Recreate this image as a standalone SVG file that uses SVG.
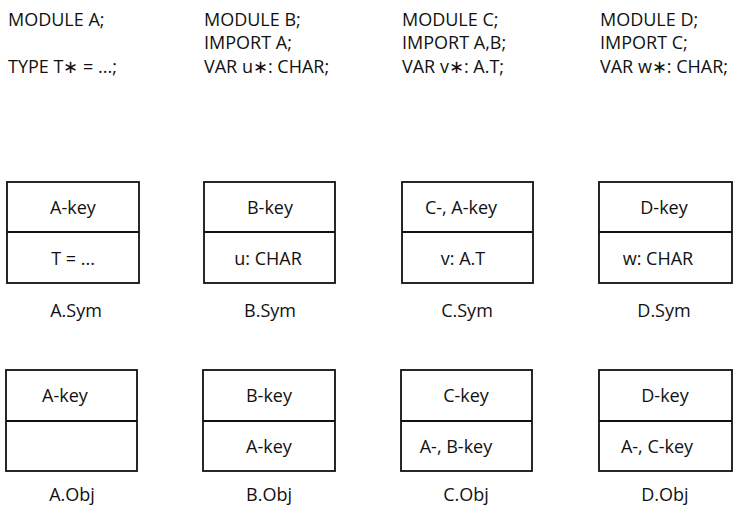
<svg xmlns="http://www.w3.org/2000/svg" width="752" height="514" viewBox="0 0 752 514">
<style>
text{font-family:"Open Sans","Liberation Sans",sans-serif;font-size:18px;fill:#111}
.c{text-anchor:middle}
.box{fill:#fff;stroke:#111;stroke-width:1.8}
.div{stroke:#111;stroke-width:1.8}
</style>
<rect width="752" height="514" fill="#fff"/>
<g id="modA">
<text x="8" y="26">MODULE A;</text>
<text x="8" y="73">TYPE T∗ = ...;</text>
</g>
<g id="modB">
<text x="204" y="26">MODULE B;</text>
<text x="204" y="49">IMPORT A;</text>
<text x="204" y="73">VAR u∗: CHAR;</text>
</g>
<g id="modC">
<text x="402" y="26">MODULE C;</text>
<text x="402" y="49">IMPORT A,B;</text>
<text x="402" y="73">VAR v∗: A.T;</text>
</g>
<g id="modD">
<text x="600" y="26">MODULE D;</text>
<text x="600" y="49">IMPORT C;</text>
<text x="600" y="73">VAR w∗: CHAR;</text>
</g>
<g id="ASym">
<rect class="box" x="7" y="182" width="132" height="101"/>
<line class="div" x1="7" y1="232" x2="139" y2="232"/>
<text class="c" x="73" y="214">A-key</text>
<text class="c" x="73" y="265">T = ...</text>
<text class="c" x="76" y="317">A.Sym</text>
</g>
<g id="BSym">
<rect class="box" x="204" y="182" width="131" height="101"/>
<line class="div" x1="204" y1="232" x2="335" y2="232"/>
<text class="c" x="270" y="214">B-key</text>
<text class="c" x="268" y="265">u: CHAR</text>
<text class="c" x="270" y="317">B.Sym</text>
</g>
<g id="CSym">
<rect class="box" x="402" y="182" width="131" height="101"/>
<line class="div" x1="402" y1="232" x2="533" y2="232"/>
<text class="c" x="461" y="214">C-, A-key</text>
<text class="c" x="463" y="265">v: A.T</text>
<text class="c" x="467" y="317">C.Sym</text>
</g>
<g id="DSym">
<rect class="box" x="599" y="182" width="133" height="101"/>
<line class="div" x1="599" y1="232" x2="732" y2="232"/>
<text class="c" x="664" y="214">D-key</text>
<text class="c" x="658" y="265">w: CHAR</text>
<text class="c" x="664" y="317">D.Sym</text>
</g>
<g id="AObj">
<rect class="box" x="6" y="370" width="131" height="101"/>
<line class="div" x1="6" y1="421" x2="137" y2="421"/>
<text class="c" x="65" y="402">A-key</text>
<text class="c" x="72" y="501">A.Obj</text>
</g>
<g id="BObj">
<rect class="box" x="203" y="370" width="132" height="101"/>
<line class="div" x1="203" y1="421" x2="335" y2="421"/>
<text class="c" x="269" y="402">B-key</text>
<text class="c" x="269" y="453">A-key</text>
<text class="c" x="269" y="501">B.Obj</text>
</g>
<g id="CObj">
<rect class="box" x="401" y="370" width="131" height="101"/>
<line class="div" x1="401" y1="421" x2="532" y2="421"/>
<text class="c" x="466" y="402">C-key</text>
<text class="c" x="456" y="453">A-, B-key</text>
<text class="c" x="466" y="501">C.Obj</text>
</g>
<g id="DObj">
<rect class="box" x="599" y="370" width="133" height="101"/>
<line class="div" x1="599" y1="421" x2="732" y2="421"/>
<text class="c" x="665" y="402">D-key</text>
<text class="c" x="657" y="453">A-, C-key</text>
<text class="c" x="665" y="501">D.Obj</text>
</g>
<g id="connectors"></g>
</svg>
